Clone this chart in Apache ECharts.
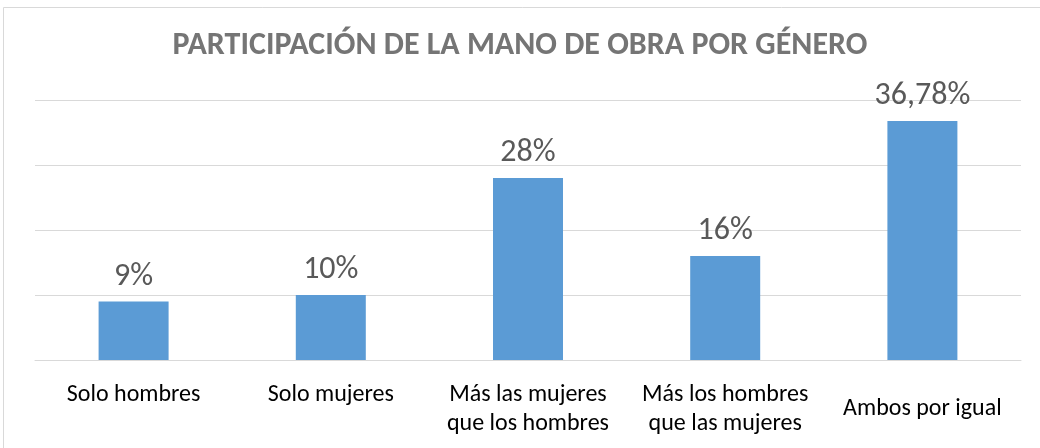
<!DOCTYPE html>
<html>
<head>
<meta charset="utf-8">
<title>Participación de la mano de obra por género</title>
<style>
html,body{margin:0;padding:0;background:#fff;}
#chart{width:1040px;height:448px;}
</style>
</head>
<body>
<div id="chart"></div>
<script src="https://cdn.jsdelivr.net/npm/echarts@6/dist/echarts.min.js"></script>
<script>
var categorias = ['Solo hombres', 'Solo mujeres', 'Más las mujeres\nque los hombres', 'Más los hombres\nque las mujeres', 'Ambos por igual'];
var porcentajes = [9, 10, 28, 16, 36.78];

var fuente = 'Carlito, "Liberation Sans Narrow", "Open Sans", sans-serif';

var myChart = echarts.init(document.getElementById('chart'));
myChart.setOption({
    animation: false,
    title: {
        text: 'PARTICIPACIÓN DE LA MANO DE OBRA POR GÉNERO',
        left: 'center',
        top: 25,
        textStyle: {fontFamily: fuente, fontSize: 32, fontWeight: 'bold', color: '#757575'}
    },
    graphic: [{
        type: 'rect',
        shape: {x: 3.5, y: 7.5, width: 1045, height: 450},
        style: {fill: 'none', stroke: '#d9d9d9', lineWidth: 1}
    }],
    grid: {left: 35, right: 19, top: 100, bottom: 88},
    xAxis: {
        type: 'category',
        data: categorias.map(function (c) {
            // la última etiqueta de una línea va centrada en el alto de dos líneas
            return c === 'Ambos por igual' ? {value: c, textStyle: {padding: [14, 0, 0, 0]}} : c;
        }),
        axisLine: {lineStyle: {color: '#d9d9d9', width: 1}},
        axisTick: {show: false},
        axisLabel: {
            interval: 0, margin: 20, fontFamily: fuente, fontSize: 24,
            lineHeight: 29, color: '#000'
        }
    },
    yAxis: {
        type: 'value', min: 0, max: 40, interval: 10,
        axisLabel: {show: false},
        axisLine: {show: false},
        axisTick: {show: false},
        splitLine: {lineStyle: {color: '#d9d9d9', width: 1}}
    },
    series: [{
        type: 'bar',
        data: porcentajes,
        barWidth: 70,
        itemStyle: {color: '#5b9bd5'},
        label: {
            show: true, position: 'top', distance: 9,
            fontFamily: fuente, fontSize: 32, color: '#595959',
            formatter: function (p) { return String(p.value).replace('.', ',') + '%'; }
        }
    }]
});
</script>
</body>
</html>
